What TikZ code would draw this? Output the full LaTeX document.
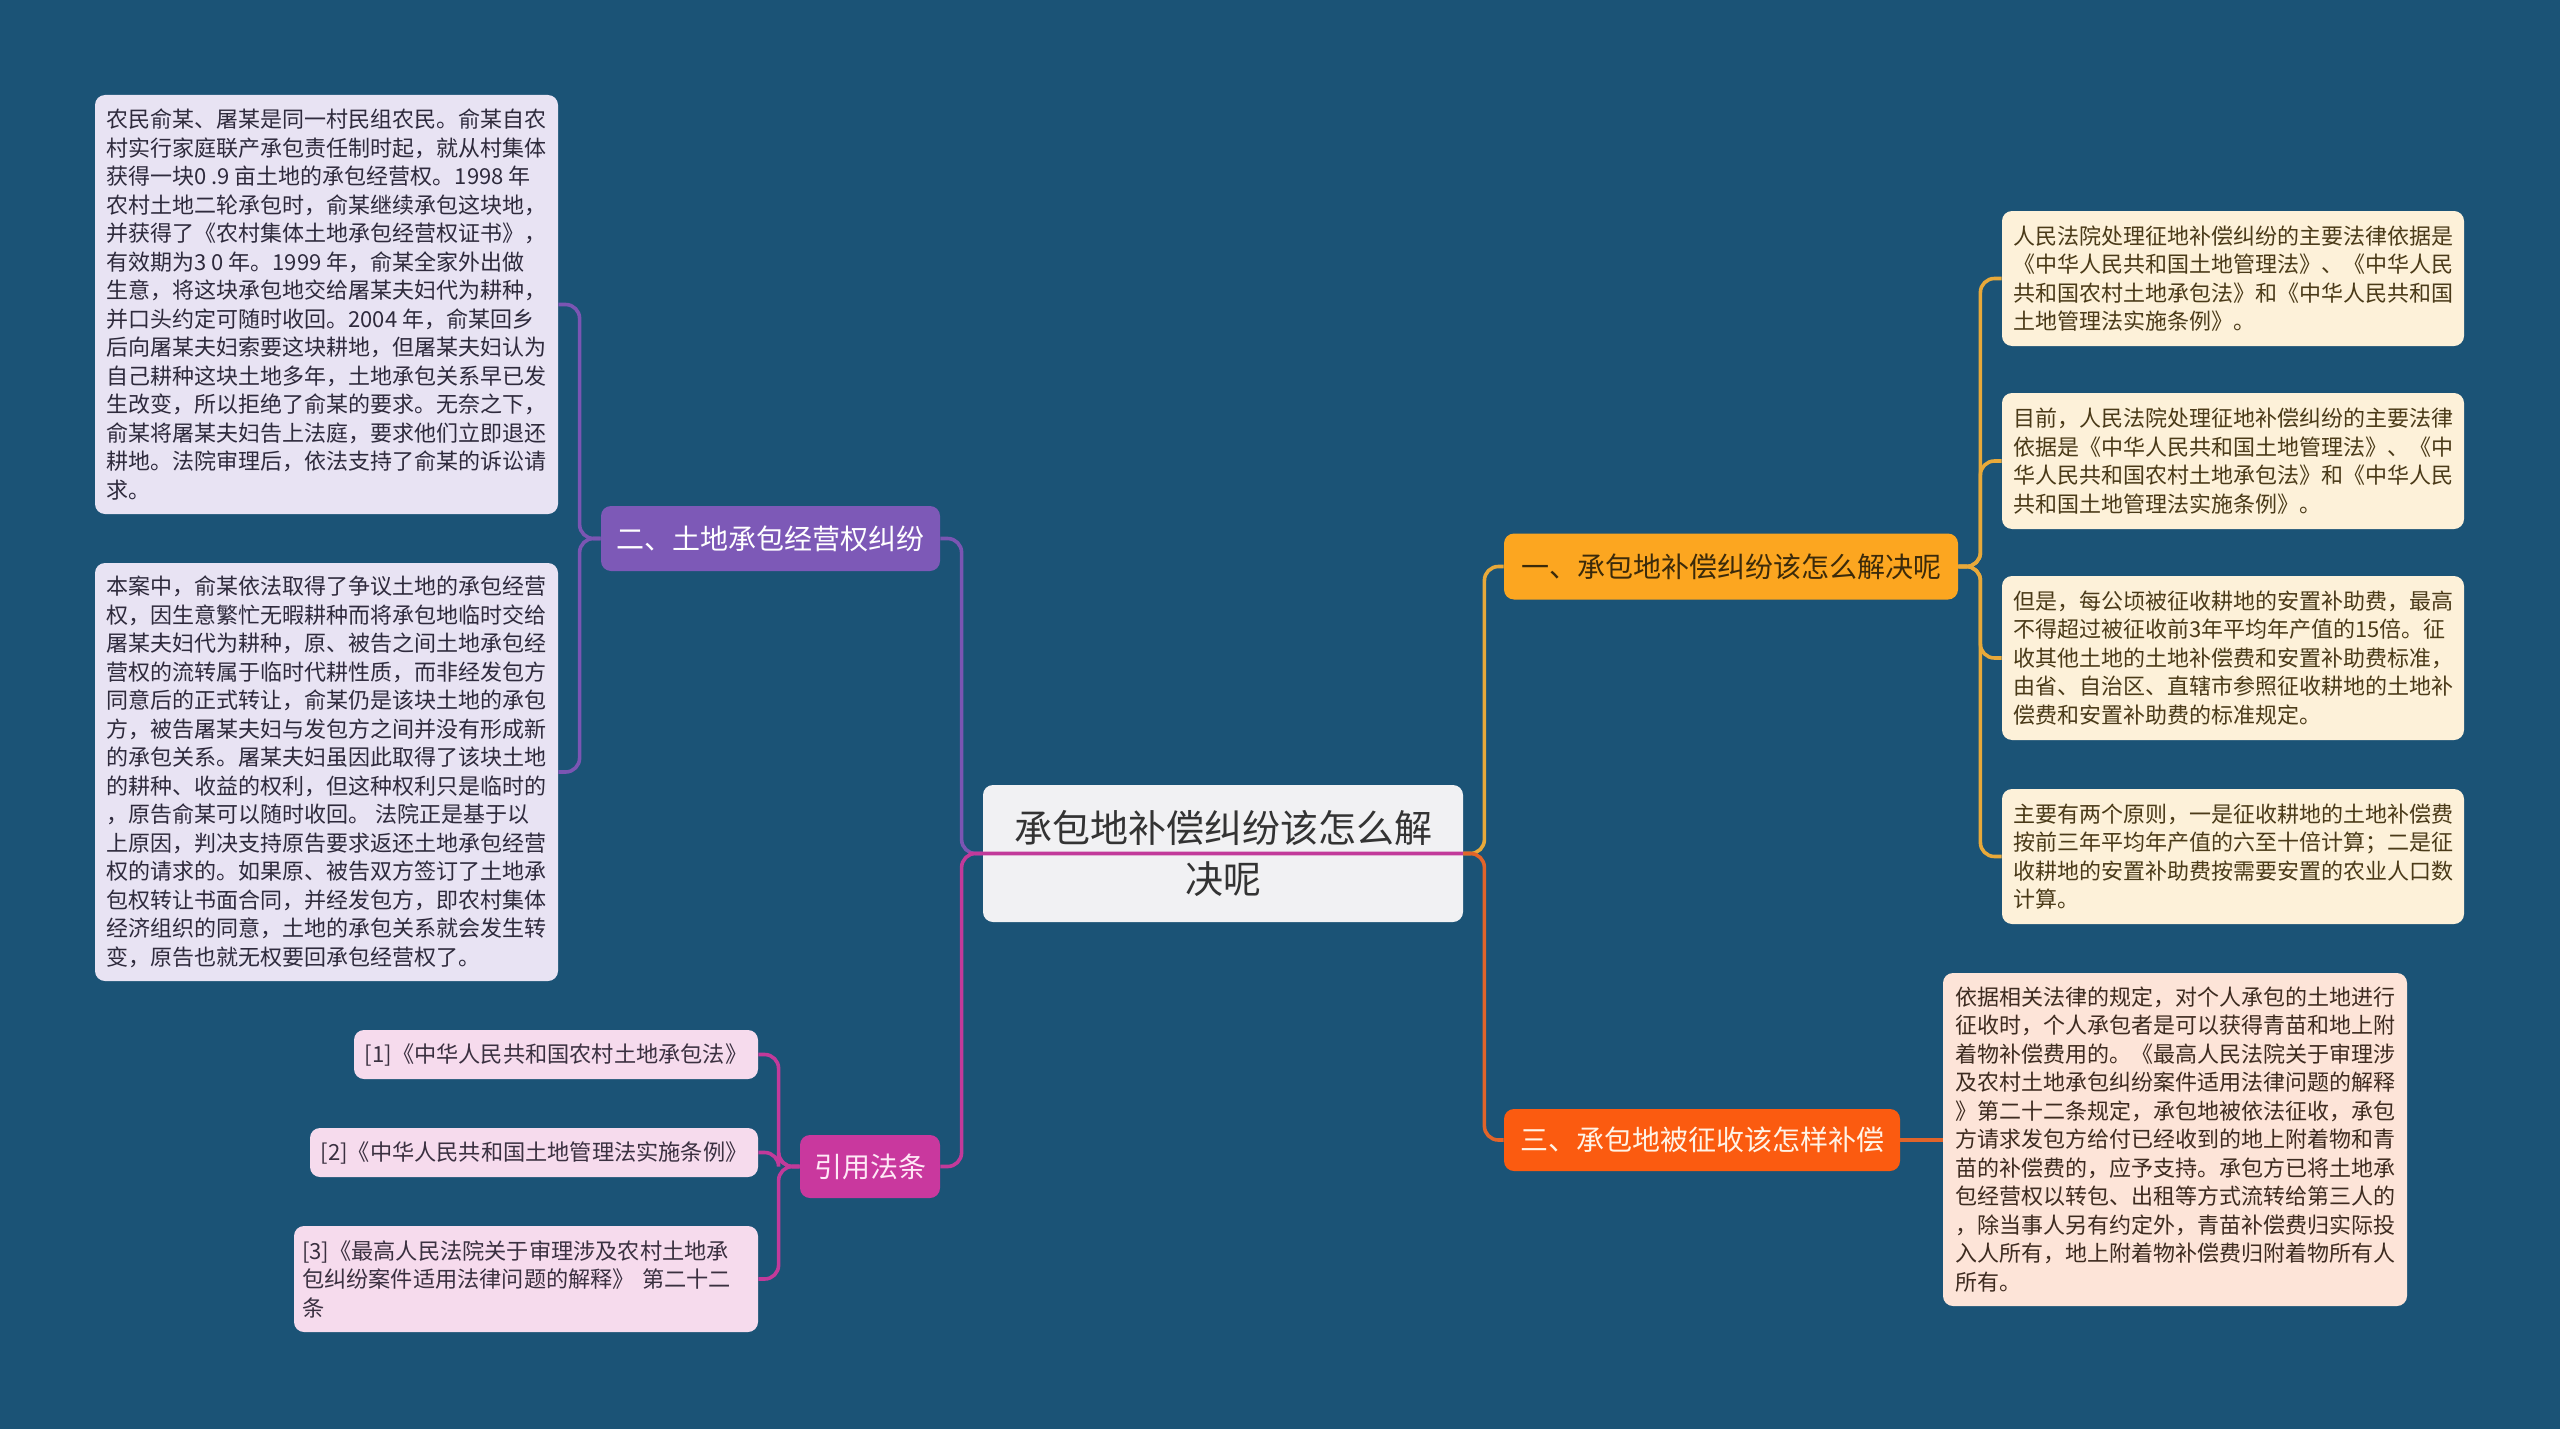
\documentclass[tikz,border=0pt]{standalone}
\usepackage{fontspec}
\setmainfont{Noto Sans CJK SC}
\definecolor{bg}{HTML}{1B5376}
\definecolor{lavfill}{HTML}{E8E3F3}
\definecolor{lavtext}{HTML}{2E2A3C}
\definecolor{reffill}{HTML}{F6DBED}
\definecolor{reftext}{HTML}{3A3040}
\definecolor{crfill}{HTML}{FDF1D9}
\definecolor{crtext}{HTML}{4A3A18}
\definecolor{pchfill}{HTML}{FDE4D8}
\definecolor{pchtext}{HTML}{3D2B20}
\definecolor{cenfill}{HTML}{F1F1F3}
\definecolor{centext}{HTML}{333333}
\definecolor{purfill}{HTML}{7D59B7}
\definecolor{magfill}{HTML}{C9389E}
\definecolor{goldfill}{HTML}{FCA620}
\definecolor{redfill}{HTML}{FB5B10}
\definecolor{purline}{HTML}{7B55B3}
\definecolor{magline}{HTML}{C23A9A}
\definecolor{goldline}{HTML}{E8A93A}
\definecolor{redline}{HTML}{E2642A}
\begin{document}
\begin{tikzpicture}[x=0.5pt,y=-0.5pt,
  txtbox/.style={rounded corners=5pt, inner sep=0pt, align=left, font=\fontsize{11pt}{14.25pt}\selectfont},
  lbox/.style={txtbox, fill=lavfill, text=lavtext},
  refb/.style={txtbox, fill=reffill, text=reftext, font=\fontsize{11.1pt}{14.25pt}\selectfont},
  rbox/.style={txtbox, fill=crfill, text=crtext},
  pbox/.style={txtbox, fill=pchfill, text=pchtext},
  topic/.style={rounded corners=5pt, inner sep=0pt, align=center, font=\fontsize{14pt}{18pt}\selectfont},
  purn/.style={topic, fill=purfill, text=white},
  magn/.style={topic, fill=magfill, text={rgb,255:red,255;green,232;blue,246}},
  goldn/.style={topic, fill=goldfill, text={rgb,255:red,59;green,42;blue,10}},
  redn/.style={topic, fill=redfill, text={rgb,255:red,255;green,243;blue,230}},
  cen/.style={rounded corners=5pt, inner sep=0pt, align=center, fill=cenfill, text=centext, font=\fontsize{19pt}{25.3pt}\selectfont},
  conn/.style={line width=1.8pt, rounded corners=7pt},
  cpur/.style={conn, draw=purline},
  cmag/.style={conn, draw=magline},
  cgold/.style={conn, draw=goldline},
  cred/.style={conn, draw=redline}
]
\fill[bg] (0,0) rectangle (2560,1429);
\useasboundingbox (0,0) rectangle (2560,1429);

% left side
\node[lbox, minimum width=231.5pt, minimum height=209.5pt] (b1) at (326.5,304.5) {农民俞某、屠某是同一村民组农民。俞某自农\\村实行家庭联产承包责任制时起，就从村集体\\获得一块0 .9 亩土地的承包经营权。1998 年\\农村土地二轮承包时，俞某继续承包这块地，\\并获得了《农村集体土地承包经营权证书》，\\有效期为3 0 年。1999 年，俞某全家外出做\\生意，将这块承包地交给屠某夫妇代为耕种，\\并口头约定可随时收回。2004 年，俞某回乡\\后向屠某夫妇索要这块耕地，但屠某夫妇认为\\自己耕种这块土地多年，土地承包关系早已发\\生改变，所以拒绝了俞某的要求。无奈之下，\\俞某将屠某夫妇告上法庭，要求他们立即退还\\耕地。法院审理后，依法支持了俞某的诉讼请\\求。};
\node[lbox, minimum width=231.5pt, minimum height=209pt] (b2) at (326.5,772) {本案中，俞某依法取得了争议土地的承包经营\\权，因生意繁忙无暇耕种而将承包地临时交给\\屠某夫妇代为耕种，原、被告之间土地承包经\\营权的流转属于临时代耕性质，而非经发包方\\同意后的正式转让，俞某仍是该块土地的承包\\方，被告屠某夫妇与发包方之间并没有形成新\\的承包关系。屠某夫妇虽因此取得了该块土地\\的耕种、收益的权利，但这种权利只是临时的\\，原告俞某可以随时收回。 法院正是基于以\\上原因，判决支持原告要求返还土地承包经营\\权的请求的。如果原、被告双方签订了土地承\\包权转让书面合同，并经发包方，即农村集体\\经济组织的同意，土地的承包关系就会发生转\\变，原告也就无权要回承包经营权了。};
\node[purn, minimum width=169.5pt, minimum height=32.5pt] (n2) at (770.5,538.5) {二、土地承包经营权纠纷};

\node[refb, minimum width=202pt, minimum height=24.5pt] (f1) at (556,1054.5) {[1]《中华人民共和国农村土地承包法》};
\node[refb, minimum width=224pt, minimum height=24.5pt] (f2) at (534,1152.5) {[2]《中华人民共和国土地管理法实施条例》};
\node[refb, minimum width=232pt, minimum height=53pt, inner xsep=4pt, text width=224pt] (f3) at (526,1279) {[3]《最高人民法院关于审理涉及农村土地承\\包纠纷案件适用法律问题的解释》 第二十二\\条};
\node[magn, minimum width=70pt, minimum height=31.5pt] (yy) at (870,1166.5) {引用法条};

% center
\node[cen, minimum width=240pt, minimum height=68.5pt] (c) at (1223,853.5) {承包地补偿纠纷该怎么解\\决呢};

% right side
\node[goldn, minimum width=227pt, minimum height=33pt] (n1) at (1731,566.5) {一、承包地补偿纠纷该怎么解决呢};
\node[redn, minimum width=198pt, minimum height=31pt] (n3) at (1702,1140) {三、承包地被征收该怎样补偿};

\node[rbox, minimum width=231pt, minimum height=67.5pt] (r1) at (2233,278.5) {人民法院处理征地补偿纠纷的主要法律依据是\\《中华人民共和国土地管理法》、《中华人民\\共和国农村土地承包法》和《中华人民共和国\\土地管理法实施条例》。};
\node[rbox, minimum width=231pt, minimum height=68pt] (r2) at (2233,461) {目前，人民法院处理征地补偿纠纷的主要法律\\依据是《中华人民共和国土地管理法》、《中\\华人民共和国农村土地承包法》和《中华人民\\共和国土地管理法实施条例》。};
\node[rbox, minimum width=231pt, minimum height=82pt] (r3) at (2233,658) {但是，每公顷被征收耕地的安置补助费，最高\\不得超过被征收前3年平均年产值的15倍。征\\收其他土地的土地补偿费和安置补助费标准，\\由省、自治区、直辖市参照征收耕地的土地补\\偿费和安置补助费的标准规定。};
\node[rbox, minimum width=231pt, minimum height=67.5pt] (r4) at (2233,856.5) {主要有两个原则，一是征收耕地的土地补偿费\\按前三年平均年产值的六至十倍计算；二是征\\收耕地的安置补助费按需要安置的农业人口数\\计算。};
\node[pbox, minimum width=232pt, minimum height=166.5pt] (r5) at (2175,1139.5) {依据相关法律的规定，对个人承包的土地进行\\征收时，个人承包者是可以获得青苗和地上附\\着物补偿费用的。《最高人民法院关于审理涉\\及农村土地承包纠纷案件适用法律问题的解释\\》第二十二条规定，承包地被依法征收，承包\\方请求发包方给付已经收到的地上附着物和青\\苗的补偿费的，应予支持。承包方已将土地承\\包经营权以转包、出租等方式流转给第三人的\\，除当事人另有约定外，青苗补偿费归实际投\\入人所有，地上附着物补偿费归附着物所有人\\所有。};

% connectors: center to main topics
\draw[cpur] (c.west) -- ++(-21,0) |- (n2.east);
\draw[cmag] (c.east) -- (c.west) -- ++(-21,0) |- (yy.east);
\draw[cgold] (c.east) -- ++(21,0) |- (n1.west);
\draw[cred] (c.east) -- ++(21,0) |- (n3.west);

% topic to details
\draw[cpur] (n2.west) -- ++(-21,0) |- (b1.east);
\draw[cpur] (n2.west) -- ++(-21,0) |- (b2.east);
\draw[cmag] (yy.west) -- ++(-21,0) |- (f1.east);
\draw[cmag] (yy.west) -- ++(-21,0) |- (f2.east);
\draw[cmag] (yy.west) -- ++(-21,0) |- (f3.east);
\draw[cgold] (n1.east) -- ++(22,0) |- (r1.west);
\draw[cgold] (n1.east) -- ++(22,0) |- (r2.west);
\draw[cgold] (n1.east) -- ++(22,0) |- (r3.west);
\draw[cgold] (n1.east) -- ++(22,0) |- (r4.west);
\draw[cred] (n3.east) -- (n3.east -| r5.west);
\end{tikzpicture}
\end{document}
